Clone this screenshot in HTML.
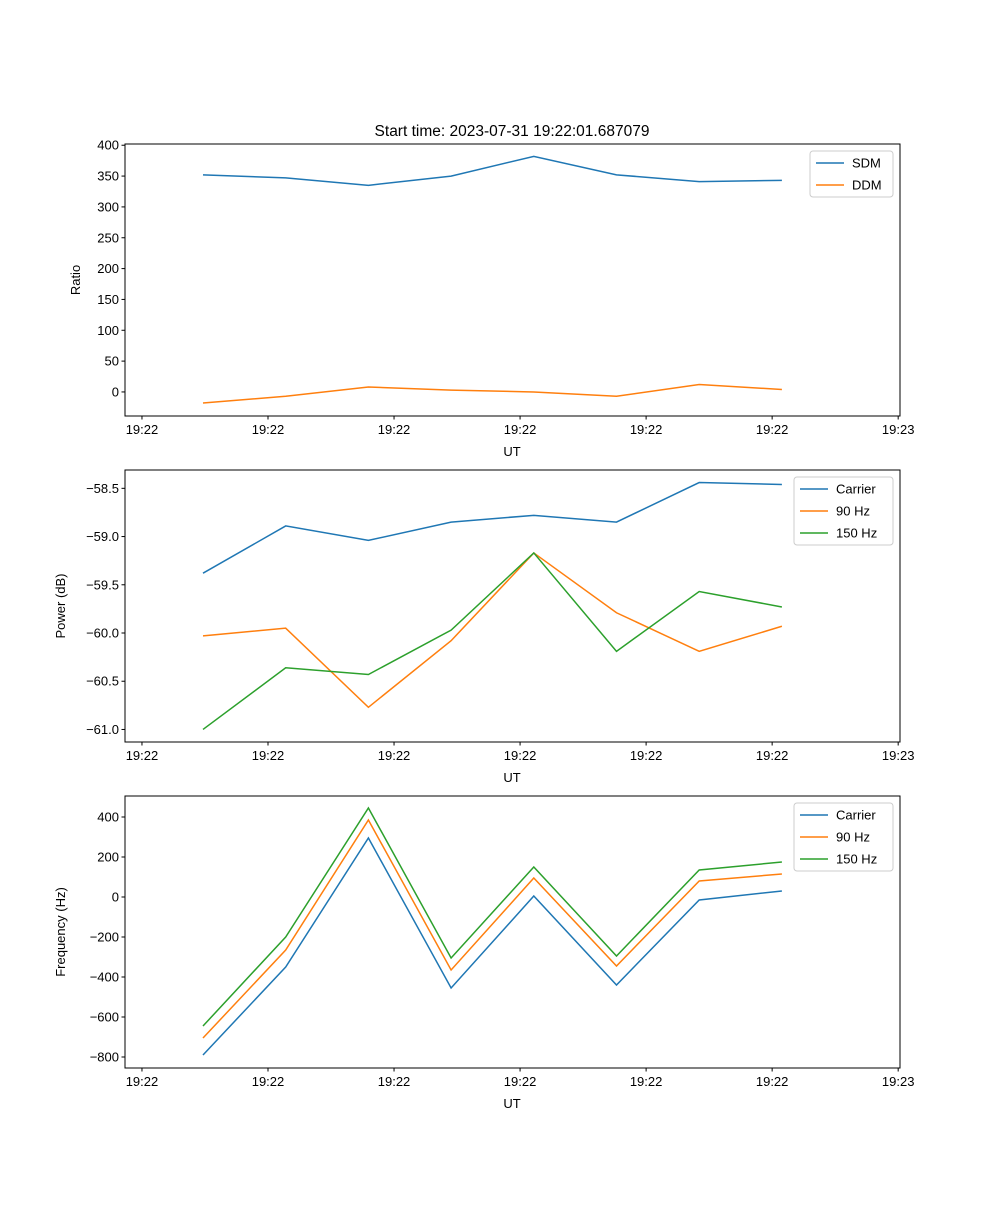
<!DOCTYPE html>
<html><head><meta charset="utf-8"><style>
body{margin:0;background:#fff}
svg text{font-family:"Liberation Sans","DejaVu Sans",sans-serif;font-size:13px;fill:#000}
</style></head><body>
<svg id="fig" width="1000" height="1200" xmlns="http://www.w3.org/2000/svg">
<rect width="1000" height="1200" fill="#fff"/>
<text x="512" y="136" text-anchor="middle" style="font-size:15.5px">Start time: 2023-07-31 19:22:01.687079</text>
</svg>
<script>
const xTickLabels=["19:22","19:22","19:22","19:22","19:22","19:22","19:23"];
const ratioSDM=[352,347,335,350,382,352,341,343];
const ratioDDM=[-18,-7,8,3,0,-7,12,4];
const powCarrier=[-59.38,-58.89,-59.04,-58.85,-58.78,-58.85,-58.44,-58.46];
const pow90=[-60.03,-59.95,-60.77,-60.08,-59.17,-59.79,-60.19,-59.93];
const pow150=[-61.0,-60.36,-60.43,-59.97,-59.17,-60.19,-59.57,-59.73];
const freqCarrier=[-790,-350,295,-455,5,-440,-15,30];
const freq90=[-705,-265,385,-365,95,-345,80,115];
const freq150=[-645,-200,445,-305,150,-295,135,175];
const ratioTicks=[0,50,100,150,200,250,300,350,400];
const powTicks=[-61.0,-60.5,-60.0,-59.5,-59.0,-58.5];
const freqTicks=[-800,-600,-400,-200,0,200,400];

const NS="http://www.w3.org/2000/svg";
const svg=document.getElementById('fig');
function mk(tag,attrs,parent){const e=document.createElementNS(NS,tag);for(const k in attrs)e.setAttribute(k,attrs[k]);(parent||svg).appendChild(e);return e;}
const X0=125,X1=900;
function xs(i){return 203+82.7*i;}
const C=['#1f77b4','#ff7f0e','#2ca02c'];

function panel(key,top,ymin,ymax,ticks,fmt,ylab,series,names,legW,legX){
  const bot=top+272;
  const g=mk('g',{});
  
  
  const ys=v=>bot-(v-ymin)/(ymax-ymin)*(bot-top);
  series.forEach((s,k)=>{
    const p=mk('polyline',{points:s.map((v,i)=>xs(i)+','+ys(v)).join(' '),fill:'none',stroke:C[k],'stroke-width':1.5},g);
    
    
  });
  const fr=mk('rect',{x:X0,y:top,width:X1-X0,height:bot-top,fill:'none',stroke:'#000','stroke-width':1},g);
  
  
  ticks.forEach(t=>{
    const y=ys(t);
    mk('line',{x1:X0-3.5,x2:X0,y1:y,y2:y,stroke:'#000'},g);
    const tx=mk('text',{x:X0-6,y:y+4.5,'text-anchor':'end'},g);tx.textContent=fmt(t);
    
    
  });
  xTickLabels.forEach((l,j)=>{
    const x=xs(-0.738+1.524*j);
    mk('line',{x1:x,x2:x,y1:bot,y2:bot+3.5,stroke:'#000'},g);
    const tx=mk('text',{x:x,y:bot+18,'text-anchor':'middle'},g);tx.textContent=l;
    
    
  });
  const xl=mk('text',{x:512,y:bot+40,'text-anchor':'middle'},g);xl.textContent='UT';
  
  
  const yl=mk('text',{x:0,y:0,'text-anchor':'middle',transform:`translate(${key==='ratio'?80:65},${(top+bot)/2}) rotate(-90)`},g);yl.textContent=ylab;
  
  
  const lg=mk('g',{},g);
  
  
  mk('rect',{x:legX,y:top+7,width:legW,height:2+names.length*22,rx:3,fill:'#fff',stroke:'#ccc','fill-opacity':0.8},lg);
  names.forEach((n,k)=>{
    const y=top+19+k*22;
    mk('line',{x1:legX+6,x2:legX+34,y1:y,y2:y,stroke:C[k],'stroke-width':1.5},lg);
    const t=mk('text',{x:legX+42,y:y+4.5},lg);t.textContent=n;
    
    
  });
}
panel('ratio',144,-39,402,ratioTicks,v=>String(v),'Ratio',[ratioSDM,ratioDDM],['SDM','DDM'],83,810);
panel('power',470,-61.13,-58.31,powTicks,v=>(v<0?'\u2212':'')+Math.abs(v).toFixed(1),'Power (dB)',[powCarrier,pow90,pow150],['Carrier','90 Hz','150 Hz'],99,794);
panel('freq',796,-855,505,freqTicks,v=>(v<0?'\u2212':'')+Math.abs(v),'Frequency (Hz)',[freqCarrier,freq90,freq150],['Carrier','90 Hz','150 Hz'],99,794);
</script>
</body></html>
